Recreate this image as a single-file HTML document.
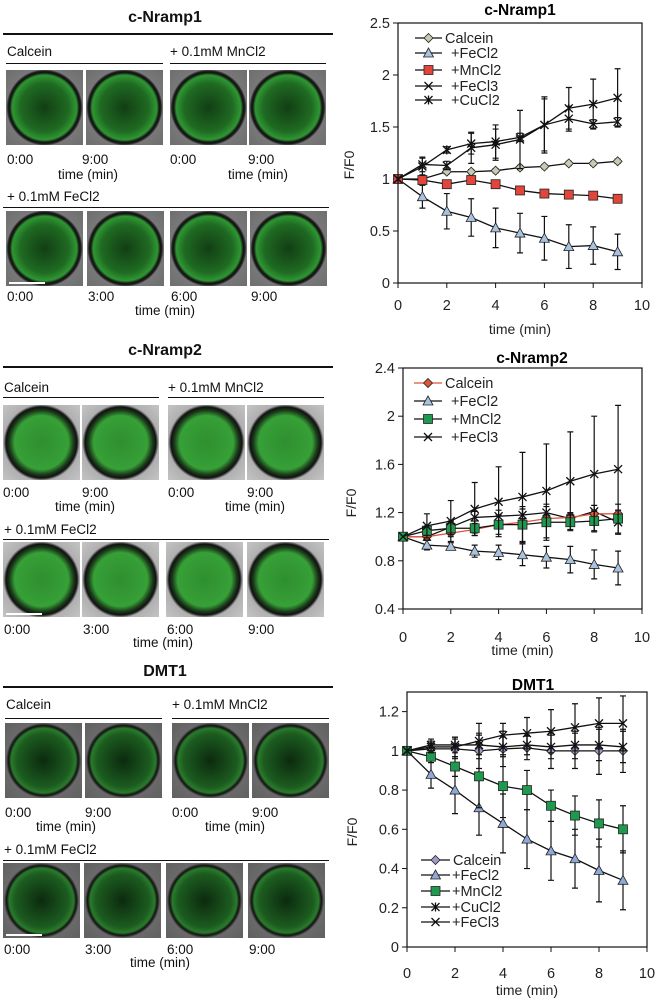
<!DOCTYPE html>
<html><head><meta charset="utf-8">
<style>
body{margin:0;width:659px;height:1004px;background:#fff;position:relative;overflow:hidden;font-family:"Liberation Sans",sans-serif;color:#111}
.a{position:absolute}
.t{position:absolute;font-size:13.5px;line-height:15px;white-space:nowrap}
.h{position:absolute;font-size:16px;font-weight:bold;white-space:nowrap;transform:translateX(-50%)}
.r{position:absolute;background:#111}
.img{position:absolute;width:77px;height:75px;background:radial-gradient(circle at 50% 50%,#123e14 0%,#1f6a22 45%,#2f9632 60%,#111 65%,#222 68%,#787878 71%,#6e6e6e 100%)}
.img.l{background:radial-gradient(circle at 50% 50%,#2e8f2e 0%,#37a037 50%,#1a3a1a 60%,#111 66%,#b0b0b0 71%,#c4c4c4 100%)}
.img.d{background:radial-gradient(circle at 50% 50%,#0c2a0e 0%,#1c5c20 50%,#2a7a2c 60%,#111 65%,#6a6a6a 70%,#606060 100%)}
</style></head><body>
<div id="left"></div>
<svg id="sv" class="a" style="left:0;top:0" width="659" height="1004"></svg>
<script>
const L=document.getElementById('left');
function add(html){L.insertAdjacentHTML('beforeend',html);}
const panels=[
 {title:'c-Nramp1',ty:9,ry:33,cy:44,cly:63,i1:70,ly1:152,ty1:167,fy:189,fly:207,i2:211,ly2:289,ty2:303,cls:'',
  x1:[6,86,170,249],x2:[6,87,170,250],ctlx:[7,82,170,248],tml:[58,228],tm2:135},
 {title:'c-Nramp2',ty:342,ry:366,cy:380,cly:397,i1:405,ly1:485,ty1:499,fy:522,fly:539,i2:542,ly2:622,ty2:635,cls:'l',
  x1:[3,82,168,247],x2:[3,82,166,247],ctlx:[3,82,168,247],tml:[55,225],tm2:133},
 {title:'DMT1',ty:663,ry:686,cy:697,cly:718,i1:723,ly1:805,ty1:819,fy:842,fly:860,i2:863,ly2:942,ty2:955,cls:'d',
  x1:[5,85,172,252],x2:[3,84,166,248],ctlx:[5,85,172,252],tml:[36,205],tm2:130}
];
panels.forEach((p,k)=>{
 add(`<div class="h" style="left:165px;top:${p.ty}px">${p.title}</div>`);
 add(`<div class="r" style="left:3px;top:${p.ry}px;width:330px;height:1.5px"></div>`);
 add(`<div class="t" style="left:${p.x1[0]+1}px;top:${p.cy}px">Calcein</div>`);
 add(`<div class="t" style="left:${p.x1[2]}px;top:${p.cy}px">+ 0.1mM MnCl2</div>`);
 add(`<div class="r" style="left:${p.x1[0]}px;top:${p.cly}px;width:${p.x1[1]+77-p.x1[0]}px;height:1px"></div>`);
 add(`<div class="r" style="left:${p.x1[2]}px;top:${p.cly}px;width:${p.x1[3]+77-p.x1[2]}px;height:1px"></div>`);
 p.x1.forEach((x,i)=>add(`<div class="img ${p.cls}" style="left:${x}px;top:${p.i1}px"></div>`));
 ['0:00','9:00','0:00','9:00'].forEach((s,i)=>add(`<div class="t" style="left:${p.ctlx[i]}px;top:${p.ly1}px">${s}</div>`));
 p.tml.forEach(x=>add(`<div class="t" style="left:${x}px;top:${p.ty1}px">time (min)</div>`));
 add(`<div class="t" style="left:${p.x2[0]+1}px;top:${p.fy}px">+ 0.1mM FeCl2</div>`);
 add(`<div class="r" style="left:3px;top:${p.fly}px;width:326px;height:1px"></div>`);
 p.x2.forEach((x,i)=>add(`<div class="img ${p.cls}" style="left:${x}px;top:${p.i2}px"></div>`));
 add(`<div class="a" style="left:${p.x2[0]+3}px;top:${p.i2+71}px;width:36px;height:1.5px;background:#fff"></div>`);
 ['0:00','3:00','6:00','9:00'].forEach((s,i)=>add(`<div class="t" style="left:${p.x2[i]+1}px;top:${p.ly2}px">${s}</div>`));
 add(`<div class="t" style="left:${p.tm2}px;top:${p.ty2}px">time (min)</div>`);
});

const xs=[0,1,2,3,4,5,6,7,8,9];
const xTicks=[0,2,4,6,8,10];
const n1Calcein=[1,1.0,1.07,1.07,1.08,1.11,1.12,1.15,1.15,1.17];
const n1Calcein_e=[0,0.02,0.02,0.02,0.02,0.02,0.02,0.02,0.02,0.02];
const n1FeCl2=[1,0.83,0.69,0.63,0.53,0.48,0.43,0.35,0.36,0.30];
const n1FeCl2_e=[0,0.11,0.17,0.18,0.19,0.19,0.21,0.21,0.18,0.17];
const n1MnCl2=[1,0.99,0.95,0.99,0.95,0.89,0.86,0.85,0.84,0.81];
const n1MnCl2_e=[0,0.03,0.03,0.03,0.04,0.02,0.02,0.02,0.02,0.02];
const n1FeCl3=[1,1.14,1.13,1.30,1.33,1.38,1.52,1.58,1.53,1.55];
const n1FeCl3_e=[0,0.07,0.04,0.15,0.15,0.28,0.27,0.12,0.04,0.04];
const n1CuCl2=[1,1.12,1.28,1.34,1.36,1.40,1.52,1.68,1.72,1.78];
const n1CuCl2_e=[0,0.08,0.03,0.1,0.16,0.04,0.25,0.2,0.24,0.28];
const n1YTicks=[0,0.5,1,1.5,2,2.5];
const n2Calcein=[1,1.0,1.03,1.06,1.10,1.12,1.15,1.16,1.19,1.19];
const n2Calcein_e=[0,0.02,0.03,0.03,0.03,0.03,0.03,0.03,0.03,0.03];
const n2FeCl2=[1,0.93,0.92,0.88,0.87,0.85,0.83,0.81,0.77,0.74];
const n2FeCl2_e=[0,0.04,0.03,0.05,0.06,0.09,0.09,0.11,0.12,0.14];
const n2MnCl2=[1,1.05,1.07,1.07,1.10,1.10,1.12,1.12,1.13,1.15];
const n2MnCl2_e=[0,0.04,0.05,0.06,0.08,0.15,0.15,0.06,0.08,0.12];
const n2FeCl3=[1,1.09,1.13,1.23,1.29,1.33,1.38,1.46,1.52,1.56];
const n2FeCl3_e=[0,0.10,0.17,0.22,0.29,0.37,0.39,0.41,0.48,0.53];
const n2Extra=[1,1.0,1.08,1.16,1.17,1.18,1.20,1.15,1.21,1.12];
const n2Extra_e=[0,0.03,0.05,0.05,0.05,0.05,0.05,0.05,0.05,0.1];
const n2YTicks=[0.4,0.8,1.2,1.6,2,2.4];
const dCalcein=[1,1.01,1.01,1.0,1.01,1.015,1.0,1.0,1.0,1.0];
const dCalcein_e=[0,0.03,0.05,0.09,0.09,0.06,0.09,0.09,0.12,0.11];
const dFeCl2=[1,0.88,0.80,0.71,0.63,0.55,0.49,0.45,0.39,0.34];
const dFeCl2_e=[0,0.07,0.12,0.14,0.15,0.15,0.15,0.15,0.16,0.15];
const dMnCl2=[1,0.97,0.92,0.87,0.82,0.80,0.72,0.67,0.63,0.60];
const dMnCl2_e=[0,0.03,0.05,0.16,0.16,0.1,0.08,0.1,0.12,0.12];
const dCuCl2=[1,1.03,1.03,1.03,1.02,1.03,1.02,1.03,1.03,1.02];
const dCuCl2_e=[0,0.03,0.04,0.05,0.05,0.05,0.06,0.07,0.08,0.08];
const dFeCl3=[1,1.02,1.02,1.05,1.08,1.09,1.10,1.12,1.14,1.14];
const dFeCl3_e=[0,0.03,0.05,0.09,0.06,0.08,0.11,0.12,0.13,0.14];
const dYTicks=[0,0.2,0.4,0.6,0.8,1,1.2];

const NS='http://www.w3.org/2000/svg';
const sv=document.getElementById('sv');
function el(tag,attrs,parent){const e=document.createElementNS(NS,tag);for(const k in attrs)e.setAttribute(k,attrs[k]);(parent||sv).appendChild(e);return e;}
function txt(s,attrs,parent){const e=el('text',attrs,parent);e.textContent=s;return e;}

function marker(g,type,x,y,fill){
 let m;
 if(type==='diamond')m=el('path',{d:`M${x} ${y-4.5}L${x+4.5} ${y}L${x} ${y+4.5}L${x-4.5} ${y}Z`,fill:fill,stroke:'#222','stroke-width':0.8},g);
 else if(type==='tri')m=el('path',{d:`M${x} ${y-5}L${x+5} ${y+4}L${x-5} ${y+4}Z`,fill:fill,stroke:'#222','stroke-width':0.8},g);
 else if(type==='sq')m=el('rect',{x:x-4.5,y:y-4.5,width:9,height:9,fill:fill,stroke:'#222','stroke-width':0.8},g);
 else if(type==='x')m=el('path',{d:`M${x-4} ${y-4}L${x+4} ${y+4}M${x-4} ${y+4}L${x+4} ${y-4}`,stroke:'#111','stroke-width':1.3,fill:'none'},g);
 else m=el('path',{d:`M${x-4} ${y-4}L${x+4} ${y+4}M${x-4} ${y+4}L${x+4} ${y-4}M${x} ${y-4.5}L${x} ${y+4.5}`,stroke:'#111','stroke-width':1.3,fill:'none'},g);
 
 
}

function chart(c){
 const g=el('g',{});
 
 
 const X=v=>c.x0+(v/10)*(c.x1-c.x0);
 const Y=v=>c.y0-(v-c.ymin)/(c.ymax-c.ymin)*(c.y0-c.yTop);
 const f=el('rect',{x:c.x0,y:c.yTop,width:c.x1-c.x0,height:c.y0-c.yTop,fill:'none',stroke:'#111','stroke-width':1.2},g);
 
 
 c.yt.forEach(v=>{
  el('line',{x1:c.x0-5,x2:c.x0,y1:Y(v),y2:Y(v),stroke:'#111','stroke-width':1},g);
  const t=txt(String(v),{x:c.x0-8,y:Y(v)+5,'font-size':14.5,'text-anchor':'end',fill:'#222'},g);
  
  
 });
 xTicks.forEach(v=>{
  el('line',{x1:X(v),x2:X(v),y1:c.y0,y2:c.y0+5,stroke:'#111','stroke-width':1},g);
  const t=txt(String(v),{x:X(v),y:c.xly,'font-size':14.5,'text-anchor':'middle',fill:'#222'},g);
  
  
 });
 const tt=txt(c.title,{x:c.tx,y:c.ty,'font-size':15.5,'font-weight':'bold','text-anchor':'middle'},g);
 
 
 const xa=txt('time (min)',{x:(c.x0+c.x1)/2,y:c.xay,'font-size':14,'text-anchor':'middle',fill:'#222'},g);
 
 
 const ya=txt('F/F0',{x:0,y:0,'font-size':14,'text-anchor':'middle',fill:'#222',transform:`translate(${c.yax},${c.yay}) rotate(-90)`},g);
 
 
 c.series.forEach(s=>{
  const sg=el('g',{},g);
  
  
  s.v.forEach((v,i)=>{ if(s.e[i]>0){
   const b=el('path',{d:`M${X(xs[i])} ${Y(v-s.e[i])}L${X(xs[i])} ${Y(v+s.e[i])}M${X(xs[i])-3} ${Y(v-s.e[i])}h6M${X(xs[i])-3} ${Y(v+s.e[i])}h6`,stroke:'#111','stroke-width':1.2,fill:'none'},sg);
   
   
  }});
  const l=el('polyline',{points:s.v.map((v,i)=>X(xs[i])+','+Y(v)).join(' '),fill:'none',stroke:s.line||'#111','stroke-width':1.3},sg);
  
  
  s.v.forEach((v,i)=>marker(sg,s.m,X(xs[i]),Y(v),s.fill));
 });
 c.series.filter(s=>s.label).forEach((s,i)=>{
  const y=c.legY[i];
  const lg=el('g',{},g);
  
  
  el('line',{x1:c.legX[0],x2:c.legX[1],y1:y,y2:y,stroke:s.line||'#111','stroke-width':1.3},lg);
  marker(lg,s.m,(c.legX[0]+c.legX[1])/2,y,s.fill);
  txt(s.label,{x:c.legX[1]+(s.label==='Calcein'?3:(c.legSp||9)),y:y+5,'font-size':14.5,fill:'#222'},lg);
 });
}

chart({name:'chart-c-nramp1',title:'c-Nramp1',tx:520,ty:15,x0:398,x1:642,yTop:23,y0:283,ymin:0,ymax:2.5,yt:n1YTicks,xly:310,xay:334,yax:354,yay:165,
 legX:[415,442],legY:[38,53,70,86,100],
 series:[
  {key:'calcein',label:'Calcein',v:n1Calcein,e:n1Calcein_e,m:'diamond',fill:'#c5ccb2'},
  {key:'fecl2',label:'+FeCl2',v:n1FeCl2,e:n1FeCl2_e,m:'tri',fill:'#a9c3df'},
  {key:'mncl2',label:'+MnCl2',v:n1MnCl2,e:n1MnCl2_e,m:'sq',fill:'#e2463a'},
  {key:'fecl3',label:'+FeCl3',v:n1FeCl3,e:n1FeCl3_e,m:'x'},
  {key:'cucl2',label:'+CuCl2',v:n1CuCl2,e:n1CuCl2_e,m:'ast'}]});
chart({name:'chart-c-nramp2',title:'c-Nramp2',tx:532,ty:363,x0:403,x1:642,yTop:368,y0:609,ymin:0.4,ymax:2.4,yt:n2YTicks,xly:642,xay:655,yax:356,yay:503,
 legX:[414,442],legY:[383,401,419,437],
 series:[
  {key:'extra',v:n2Extra,e:n2Extra_e,m:'x'},
  {key:'calcein',label:'Calcein',v:n2Calcein,e:n2Calcein_e,m:'diamond',fill:'#e0553a',line:'#e0553a'},
  {key:'fecl2',label:'+FeCl2',v:n2FeCl2,e:n2FeCl2_e,m:'tri',fill:'#a9c3df'},
  {key:'mncl2',label:'+MnCl2',v:n2MnCl2,e:n2MnCl2_e,m:'sq',fill:'#1e9a4e'},
  {key:'fecl3',label:'+FeCl3',v:n2FeCl3,e:n2FeCl3_e,m:'x'}]});
chart({name:'chart-dmt1',title:'DMT1',tx:533,ty:690,x0:407,x1:647,yTop:692,y0:947,ymin:0,ymax:1.3,yt:dYTicks,xly:978,xay:995,yax:357,yay:832,
 legX:[421,450],legY:[860,875,891,907,922],legSp:2,
 series:[
  {key:'calcein',label:'Calcein',v:dCalcein,e:dCalcein_e,m:'diamond',fill:'#9d9cc8'},
  {key:'fecl2',label:'+FeCl2',v:dFeCl2,e:dFeCl2_e,m:'tri',fill:'#8fa8d6'},
  {key:'mncl2',label:'+MnCl2',v:dMnCl2,e:dMnCl2_e,m:'sq',fill:'#1e9a4e'},
  {key:'cucl2',label:'+CuCl2',v:dCuCl2,e:dCuCl2_e,m:'ast'},
  {key:'fecl3',label:'+FeCl3',v:dFeCl3,e:dFeCl3_e,m:'x'}]});
</script>
</body></html>
